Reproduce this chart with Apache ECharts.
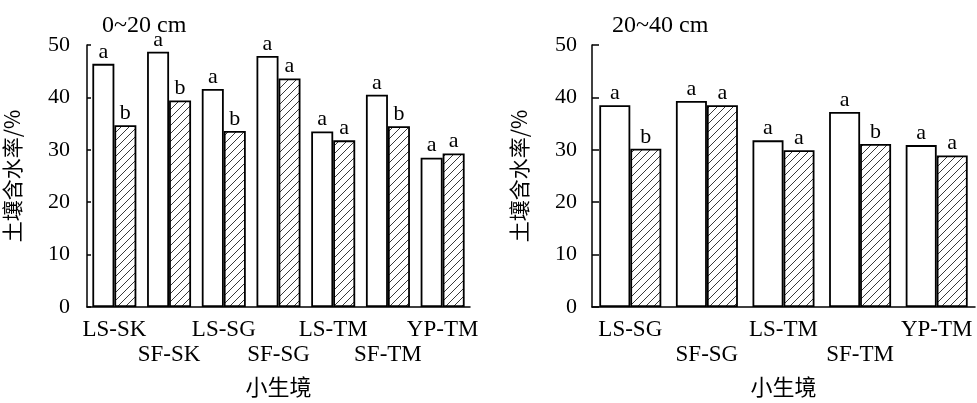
<!DOCTYPE html>
<html><head><meta charset="utf-8">
<script src="https://cdn.jsdelivr.net/npm/echarts@6/dist/echarts.min.js"></script>
<style>html,body{margin:0;padding:0;background:#fff}#c{width:977px;height:403px}</style>
</head><body><div id="c"></div>
<script>
var cats1 = ['LS-SK','SF-SK','LS-SG','SF-SG','LS-TM','SF-TM','YP-TM'];
var white1 = [46.4,48.7,41.6,47.9,33.5,40.5,28.5];
var hatch1 = [34.7,39.4,33.6,43.6,31.8,34.5,29.3];
var sigW1 = ['a','a','a','a','a','a','a'];
var sigH1 = ['b','b','b','a','a','b','a'];
var cats2 = ['LS-SG','SF-SG','LS-TM','SF-TM','YP-TM'];
var white2 = [38.5,39.3,31.8,37.2,30.9];
var hatch2 = [30.2,38.5,29.9,31.1,28.9];
var sigW2 = ['a','a','a','a','a'];
var sigH2 = ['b','a','a','b','a'];

var serif = '"Liberation Serif","Times New Roman",serif';
var cjk = '"Noto Sans CJK SC",sans-serif';

var pc = document.createElement('canvas');
pc.width = 8; pc.height = 8;
var g = pc.getContext('2d');
g.fillStyle = '#fff'; g.fillRect(0,0,8,8);
g.strokeStyle = '#222'; g.lineWidth = 0.9;
g.beginPath();
g.moveTo(0,8); g.lineTo(8,0);
g.moveTo(-1,1); g.lineTo(1,-1);
g.moveTo(7,9); g.lineTo(9,7);
g.stroke();
var hatchFill = {image: pc, repeat: 'repeat'};

var chart = echarts.init(document.getElementById('c'));

function xAxis(idx, cats){
  return {
    type:'category', gridIndex: idx, data: cats,
    name:'小生境', nameLocation:'middle', nameGap: 69,
    nameTextStyle:{fontFamily: cjk, fontSize:22, color:'#000'},
    axisLine:{lineStyle:{color:'#000', width:1.5}},
    axisTick:{show:false},
    axisLabel:{interval:0, fontFamily: serif, fontSize:23, color:'#000', margin:10, lineHeight:25,
      formatter:function(v,i){ return i%2 ? '\n'+v : v; }}
  };
}
function yAxis(idx, gap){
  return {
    type:'value', gridIndex: idx, min:0, max:50, interval:10,
    name:'土壤含水率/%', nameLocation:'middle', nameGap: gap, nameRotate: 90,
    nameTextStyle:{fontFamily: cjk, fontSize:21, color:'#000'},
    axisLine:{show:true, lineStyle:{color:'#000', width:1.5}},
    axisTick:{show:true, inside:true, length: idx===0?4:7, lineStyle:{color:'#000', width:1.5}},
    splitLine:{show:false},
    axisLabel:{fontFamily: serif, fontSize:22, color:'#000', margin: idx===0?17:15}
  };
}
function lab(sig){
  return {show:true, position:'top', distance:1, fontFamily: serif, fontSize:22, color:'#000',
    formatter:function(p){ return sig[p.dataIndex]; }};
}
function bars(idx, vals, fill, sig, w){
  return {
    type:'bar', xAxisIndex: idx, yAxisIndex: idx, data: vals, barWidth: w, barGap:'0%',
    itemStyle:{color: fill, borderColor:'#000', borderWidth:1.8},
    label: lab(sig), animation:false, silent:true
  };
}

chart.setOption({
  animation:false,
  title:[
    {text:'0~20 cm', left:97, top:9, textStyle:{fontFamily: serif, fontSize:24, fontWeight:'normal', color:'#000'}},
    {text:'20~40 cm', left:607, top:9, textStyle:{fontFamily: serif, fontSize:24, fontWeight:'normal', color:'#000'}}
  ],
  grid:[
    {left:87, right:507, top:45, bottom:93},
    {left:592, right:2, top:45, bottom:93}
  ],
  xAxis:[xAxis(0,cats1), xAxis(1,cats2)],
  yAxis:[yAxis(0,64), yAxis(1,62)],
  series:[
    bars(0, white1, '#fff', sigW1, 22),
    bars(0, hatch1, hatchFill, sigH1, 22),
    bars(1, white2, '#fff', sigW2, 31),
    bars(1, hatch2, hatchFill, sigH2, 31)
  ]
});
</script>
</body></html>
